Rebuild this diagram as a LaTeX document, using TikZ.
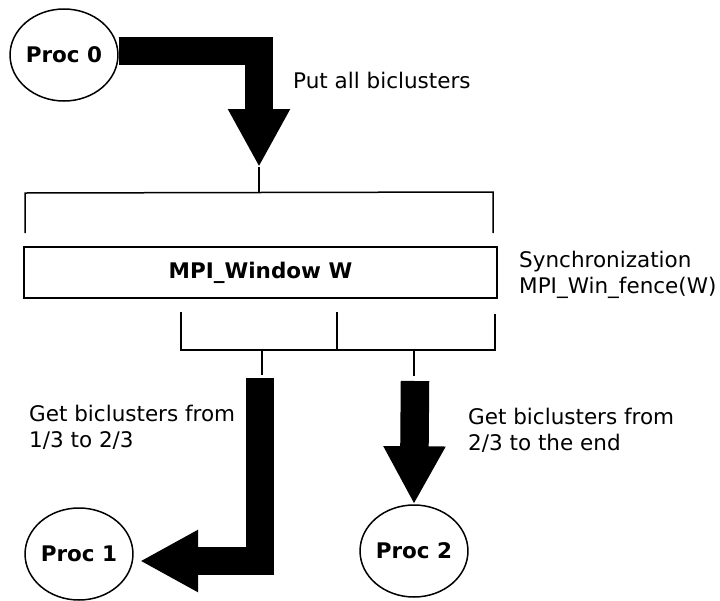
\documentclass[tikz,border=0pt]{standalone}
\usepackage{fontspec}
\setmainfont{DejaVu Sans}
\usetikzlibrary{shapes.geometric,arrows.meta}

\begin{document}
\fontsize{21.5}{26}\selectfont
\begin{tikzpicture}[x=1pt, y=-1pt,
    proc/.style={draw, ellipse, line width=1.5pt, minimum width=102pt,
                 minimum height=92pt, inner sep=0pt, font=\bfseries},
    bigarrow/.style={line width=28.5pt, line join=miter,
                     -{Triangle[width=58pt,length=58pt]}},
    rule/.style={line width=1.5pt},
    note/.style={anchor=base west, align=left, inner sep=0pt}]
    \useasboundingbox (0,0) rectangle (720,600);

    \node [proc] (p0) at (64,55)   {Proc 0};
    \node [proc] (p1) at (79,554)  {Proc 1};
    \node [proc] (p2) at (414,551) {Proc 2};
    \node [draw, line width=2pt, minimum width=473pt, minimum height=51pt,
           font=\bfseries] (win) at (260.5,272.5) {MPI\_Window W};

    \node [note] (put)  at (293,88)  {Put all biclusters};
    \node [note] (sync) at (519,293) {Synchronization\\MPI\_Win\_fence(W)};
    \node [note] (get1) at (29,447)  {Get biclusters from\\1/3 to 2/3};
    \node [note] (get2) at (468,450) {Get biclusters from\\2/3 to the end};

    \coordinate (puttip) at (259,167);
    \coordinate (upmid)  at (259,193);
    \coordinate (lowa)   at (262,375);
    \coordinate (lowb)   at (414,376);
    \coordinate (get1top) at (260,378);
    \coordinate (get2top) at (415,381);
    \coordinate (get1tip) at (140,561);

    % Now draw the brackets:
    \draw [rule] (25,233) -- (25,193) -- (493,192) -- (493,233);
    \draw [rule] (puttip) -- (upmid);
    \draw [rule] (181,312) -- (181,350) -- (495,350) -- (495,314);
    \draw [rule] (337,312) -- (337,350);
    \draw [rule] (262,350) -- (lowa);
    \draw [rule] (414,350) -- (lowb);

    % and the big arrows:
    \draw [bigarrow] ([yshift=4pt]p0.east) -| (puttip);
    \draw [bigarrow] (get1top) |- (get1tip);
    \draw [bigarrow] (get2top) -- (p2.north);
\end{tikzpicture}
\end{document}
